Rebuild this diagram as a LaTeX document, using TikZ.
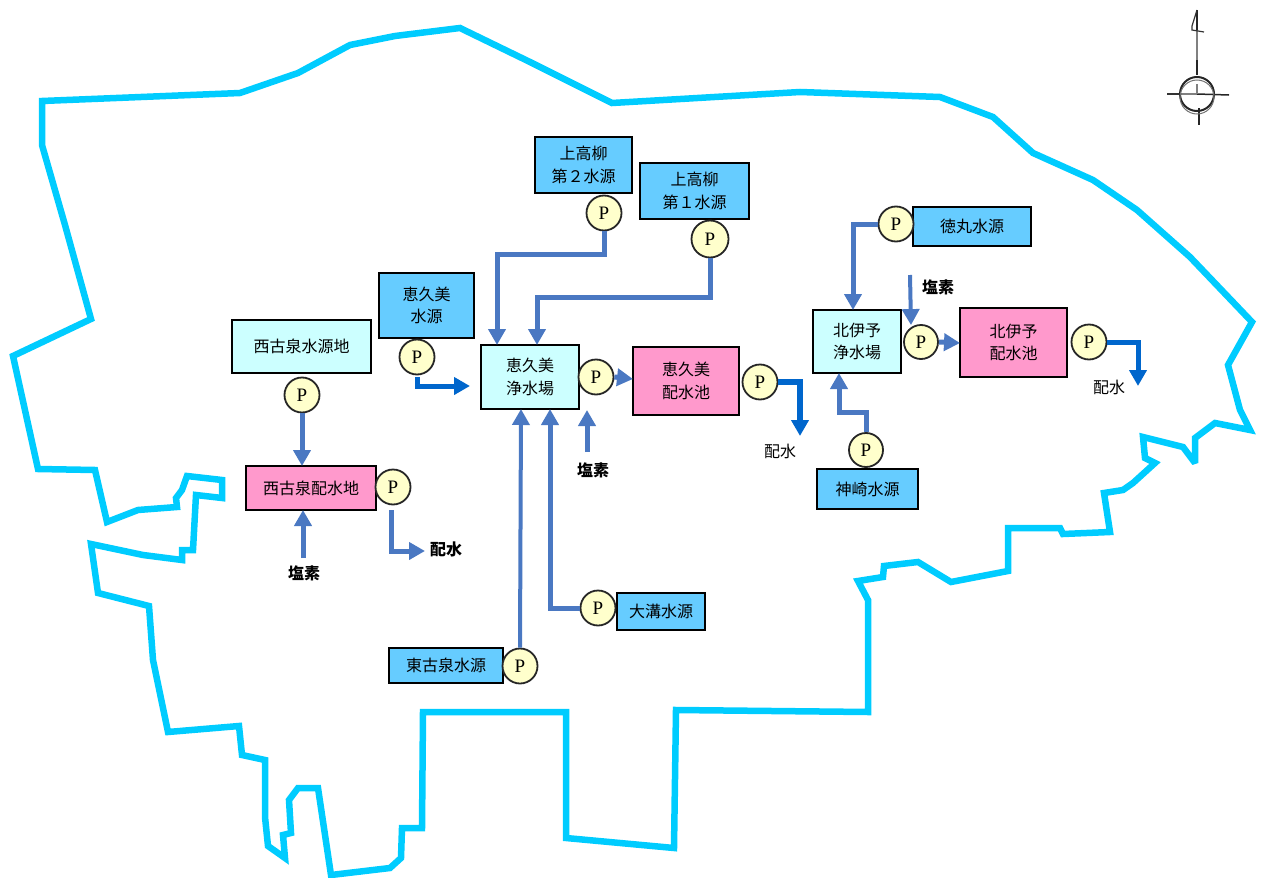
\documentclass[tikz,border=0pt]{standalone}
\usepackage{fontspec}
\usetikzlibrary{arrows.meta}
\setmainfont{Noto Sans CJK JP}
\newfontfamily\pfont{Liberation Serif}
\definecolor{bound}{HTML}{00CCFF}
\definecolor{srcblue}{HTML}{66CCFF}
\definecolor{plantc}{HTML}{CCFFFF}
\definecolor{poolc}{HTML}{FF99CC}
\definecolor{pumpc}{HTML}{FFFFCC}
\definecolor{pipec}{HTML}{4A78C2}
\definecolor{flowc}{HTML}{0066CC}
\tikzset{
  x=1pt,y=-1pt,
  boundary/.style={draw=bound,line width=6.5pt,line join=miter,miter limit=3},
  wbox/.style={draw=black,line width=1.8pt,outer sep=0pt,anchor=north west,inner sep=0pt,align=center,font=\fontsize{16}{22.5}\selectfont},
  srcbox/.style={wbox,fill=srcblue},
  plantbox/.style={wbox,fill=plantc},
  poolbox/.style={wbox,fill=poolc},
  pump/.style={circle,draw=black!85,fill=pumpc,line width=1.8pt,minimum size=35pt,inner sep=0pt,font=\pfont\fontsize{19}{19}\selectfont},
  pipe/.style={draw=pipec,line width=5pt,-{Triangle[length=16pt,width=17pt]},line join=miter},
  flow/.style={draw=flowc,line width=5pt,-{Triangle[length=16pt,width=17pt]},line join=miter},
  lab/.style={inner sep=0pt,font=\fontsize{16}{18}\selectfont},
  blab/.style={lab,font=\fontsize{16}{18}\selectfont\bfseries},
}
\begin{document}
\begin{tikzpicture}
\useasboundingbox (0,0) rectangle (1262,878);
% district boundary
\draw[boundary] (42,101) -- (240,93) -- (298,73) -- (350,45) -- (395,36) -- (460,28) -- (530,62) -- (612,103) -- (800,92) -- (940,97) -- (993,117) -- (1033,153) -- (1093,180) -- (1137,210) -- (1190,257) -- (1252,322) -- (1228,365) -- (1240,410) -- (1250,430) -- (1215,423) -- (1195,438) -- (1195,463) -- (1183,447) -- (1143,437) -- (1145,458) -- (1155,463) -- (1133,483) -- (1123,490) -- (1104,493) -- (1110,532) -- (1063,534) -- (1060,528) -- (1008,528) -- (1008,571) -- (951,582) -- (918,562) -- (884,566) -- (883,577) -- (858,581) -- (868,600) -- (868,712) -- (676,710) -- (674,848) -- (566,838) -- (566,712) -- (423,712) -- (422,828) -- (402,828) -- (401,858) -- (390,868) -- (331,875) -- (318,788) -- (298,788) -- (289,800) -- (291,833) -- (283,835) -- (285,858) -- (268,846) -- (265,817) -- (265,760) -- (242,755) -- (239,726) -- (168,732) -- (153,660) -- (149,606) -- (98,593) -- (91,544) -- (143,555) -- (182,560) -- (182,550) -- (193,550) -- (196,495) -- (222,498) -- (222,480) -- (187,476) -- (182,490) -- (176,498) -- (177,507) -- (138,510) -- (107,522) -- (95,470) -- (38,469) -- (13,356) -- (91,319) -- (65,225) -- (42,145) -- cycle;
% north mark
\draw[black!85,line width=1.5pt] (1197,10) -- (1197,75);
\draw[black!50,line width=2pt] (1197,30) -- (1197,60);
\draw[black!85,line width=1.8pt] (1199,108) -- (1199,125);
\draw[black!80,line width=1.5pt] (1167,94) -- (1181,94);
\draw[black!50,line width=2.5pt] (1181,94) -- (1197,94);
\draw[black!85,line width=1.5pt] (1197,94) -- (1229,95);
\draw[black!50,line width=2pt] (1197,84) -- (1197,94);
\draw[black!80,line width=1.2pt] (1197,10) -- (1192,26) -- (1192,30) -- (1204,32);
\draw[black!85,line width=2pt] (1197,94) circle[radius=17];
\draw[black!55,line width=1pt] (1197,97) circle[radius=17];
% boxes
\node[srcbox,minimum width=97pt,minimum height=56pt] (k2) at (535,137) {上高柳\\第２水源};
\node[srcbox,minimum width=109pt,minimum height=56pt] (k1) at (640,163) {上高柳\\第１水源};
\node[srcbox,minimum width=95pt,minimum height=65pt] (em) at (379,273) {恵久美\\水源};
\node[plantbox,minimum width=139pt,minimum height=53pt] (nw) at (232,320) {西古泉水源地};
\node[plantbox,minimum width=98pt,minimum height=64pt] (ej) at (481,345) {恵久美\\浄水場};
\node[poolbox,minimum width=106pt,minimum height=68pt] (eh) at (633,347) {恵久美\\配水池};
\node[poolbox,minimum width=130pt,minimum height=44pt] (nh) at (246,466) {西古泉配水地};
\node[srcbox,minimum width=88pt,minimum height=37pt] (om) at (617,593) {大溝水源};
\node[srcbox,minimum width=114pt,minimum height=35pt] (hk) at (389,648) {東古泉水源};
\node[srcbox,minimum width=118pt,minimum height=39pt] (to) at (913,207) {徳丸水源};
\node[plantbox,minimum width=88pt,minimum height=63pt] (kj) at (813,310) {北伊予\\浄水場};
\node[poolbox,minimum width=107pt,minimum height=69pt] (kh) at (960,308) {北伊予\\配水池};
\node[srcbox,minimum width=101pt,minimum height=40pt] (ks) at (817,469) {神崎水源};
% pumps
\node[pump] (pk2) at (604,213) {P};
\node[pump,minimum size=37pt] (pk1) at (710,239) {P};
\node[pump] (pem) at (417,357) {P};
\node[pump] (pnw) at (302,395) {P};
\node[pump] (pej) at (596,377) {P};
\node[pump] (peh) at (760,382) {P};
\node[pump] (pnh) at (393,487) {P};
\node[pump] (pom) at (598,608) {P};
\node[pump] (phk) at (520,666) {P};
\node[pump] (pto) at (896,224) {P};
\node[pump,minimum size=34pt] (pkj) at (921,342) {P};
\node[pump] (pkh) at (1089,342) {P};
\node[pump,minimum size=34pt] (pks) at (866,450) {P};
% labels
\node[blab] (e1) at (304,573) {塩素};
\node[blab] (d1) at (446,549) {配水};
\node[blab] (e2) at (593,470) {塩素};
\node[blab] (e3) at (938,287) {塩素};
\node[lab] (d2) at (780,451) {配水};
\node[lab] (d3) at (1109,387) {配水};
% free ends
\coordinate (fe1) at (303,558);
\coordinate (fe2) at (587,452);
\coordinate (fe3) at (910,275);
\coordinate (fd1) at (425,551);
\coordinate (fd2) at (800,436);
\coordinate (fd3) at (1138,386);
\coordinate (fd4) at (470,386);
% connectors
\draw[pipe] (pk2.south) |- (497,254) -- ([xshift=16pt]ej.north west);
\draw[pipe] (pk1.south) |- (537,297) -- ([xshift=56pt]ej.north west);
\draw[pipe] (pnw.south) -- (nh.north -| pnw);
\draw[pipe] (fe1) -- (nh.south -| fe1);
\draw[pipe] (391,510) |- (fd1);
\draw[flow] (417,377) |- (fd4);
\draw[pipe] (pej.east) -- ([yshift=-32pt]eh.north west);
\draw[flow,line width=6pt] (peh.east) -| (fd2);
\draw[pipe,line width=4pt] (phk.north) -- (ej.south -| 521,0);
\draw[pipe] (pom.west) -| (ej.south -| 550,0);
\draw[pipe] (fe2) -- (587,410);
\draw[pipe] (pto.west) -| (kj.north -| 853,0);
\draw[pipe,line width=4pt] (fe3) -- ([xshift=-10pt,yshift=-1pt]pkj.north);
\draw[pipe] (pkj.east) -- ([yshift=-35pt]kh.north west);
\draw[flow] (pkh.east) -| (fd3);
\draw[pipe] (pks.north) |- (839,412) -- (kj.south -| 839,0);
\end{tikzpicture}
\end{document}
